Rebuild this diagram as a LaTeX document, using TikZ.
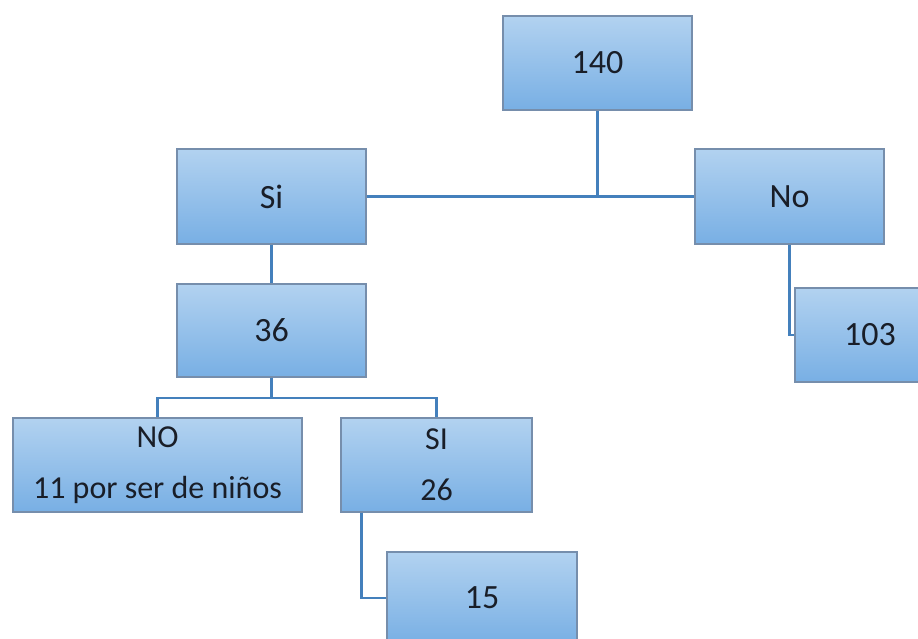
\documentclass[tikz,border=0pt]{standalone}
\usepackage{fontspec}
\setmainfont{Carlito}
\definecolor{boxtop}{RGB}{178,210,240}
\definecolor{boxbot}{RGB}{120,175,228}
\definecolor{boxline}{RGB}{118,142,172}
\definecolor{conn}{RGB}{68,128,188}
\definecolor{txt}{RGB}{25,30,40}
\tikzset{
  box/.style={draw=boxline, line width=1.3pt, top color=boxtop, bottom color=boxbot,
    inner sep=0pt, align=center, text=txt, font=\fontsize{34}{40}\selectfont},
  twoline/.style={font=\fontsize{32}{51}\selectfont},
  link/.style={draw=conn, line width=2.6pt}
}
\begin{document}
\begin{tikzpicture}[x=1pt,y=-1pt]
\useasboundingbox (0,0) rectangle (918,638);
\node[box, minimum width=189pt, minimum height=94pt] (n140) at (597.5,63) {140};
\node[box, minimum width=189pt, minimum height=95pt] (si) at (271.5,196.5) {Si};
\node[box, minimum width=189pt, minimum height=95pt] (no) at (789.5,196.5) {No};
\node[box, minimum width=150pt, minimum height=94pt] (n103) at (870,335) {103};
\node[box, minimum width=189pt, minimum height=93pt] (n36) at (271.5,330.5) {36};
\node[box, twoline, minimum width=289pt, minimum height=94pt] (noN) at (157.5,465) {NO\\11 por ser de niños};
\node[box, twoline, minimum width=191pt, minimum height=94pt] (siN) at (436.5,465) {SI\\26};
\node[box, minimum width=190pt, minimum height=92pt] (n15) at (482,598) {15};
\coordinate (j2) at (271.5,398);
\draw[link] (si.east) -- (no.west);
\draw[link] (n140.south) -- (n140.south |- si.east);
\draw[link] (si.south) -- (n36.north);
\draw[link] (n36.south) -- (j2);
\draw[link] (noN.north) -- (noN.north |- j2) -- (siN.north |- j2) -- (siN.north);
\draw[link] (no.south) |- (n103.west);
\draw[link] ([xshift=21pt]siN.south west) |- (n15.west);
\end{tikzpicture}
\end{document}
